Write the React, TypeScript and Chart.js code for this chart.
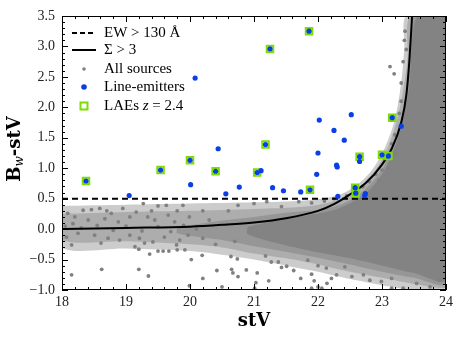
import React, { useEffect, useRef } from 'react';
import { Chart, registerables } from 'chart.js';

Chart.register(...registerables);

// ---------- data ----------
const xTickValues = [18, 19, 20, 21, 22, 23, 24];
const yTickValues = [-1, -0.5, 0, 0.5, 1, 1.5, 2, 2.5, 3, 3.5];

const ewThresholdX = [18, 24];
const ewThresholdY = [0.5, 0.5];

const sigmaCurveX = [18, 19, 20, 20.5, 21, 21.5, 22, 22.25, 22.5, 22.75, 23.0, 23.15, 23.3, 23.38, 23.43, 23.47];
const sigmaCurveY = [0.0, 0.02, 0.04, 0.07, 0.11, 0.18, 0.3, 0.41, 0.57, 0.76, 1.06, 1.32, 1.75, 2.2, 2.8, 3.5];

const lineEmittersX = [18.375, 19.05, 19.54, 20.0, 20.01, 20.08, 20.4, 20.44, 20.56, 20.77, 21.05, 21.11, 21.18, 21.25, 21.29, 21.46, 21.73, 21.86, 21.875, 21.98, 22.0, 22.02, 22.25, 22.29, 22.3, 22.31, 22.41, 22.52, 22.58, 22.59, 22.65, 22.65, 22.74, 22.73, 23.0, 23.1, 23.16, 23.3];
const lineEmittersY = [0.79, 0.55, 0.97, 1.13, 0.73, 2.48, 0.95, 1.32, 0.58, 0.69, 0.93, 0.96, 1.39, 2.96, 0.68, 0.63, 0.61, 3.25, 0.645, 0.9, 1.25, 1.79, 1.62, 1.05, 1.02, 0.54, 1.46, 1.88, 0.68, 0.59, 1.19, 1.11, 0.585, 0.55, 1.22, 1.2, 1.83, 1.69];

const laesX = [18.375, 19.54, 20.0, 20.4, 21.05, 21.18, 21.25, 21.86, 21.875, 22.58, 22.59, 22.65, 23.0, 23.1, 23.16];
const laesY = [0.79, 0.97, 1.13, 0.95, 0.93, 1.39, 2.96, 3.25, 0.645, 0.68, 0.59, 1.19, 1.22, 1.2, 1.83];

// individually visible sources (sparse parts of the cloud)
const sourcesX = [
  18.09, 18.33, 18.46, 18.59, 18.77, 18.95, 19.16, 19.27, 19.5, 19.63, 19.89,
  18.17, 18.41, 18.67, 18.88, 19.06, 19.34, 19.45, 19.66, 19.76, 19.99,
  18.07, 18.25, 18.51, 18.72, 18.9, 19.06, 19.21, 19.42, 19.6, 19.84, 19.97,
  18.15, 18.61, 19.14, 19.29, 19.79,
  18.05, 18.3, 18.55, 18.8, 19.0, 19.25, 19.5, 19.7, 19.9, 20.1, 18.2, 18.7, 19.4, 19.8, 20.2, 20.3, 20.2, 20.4, 20.6, 20.7,
  18.15, 18.62, 19.2, 19.35, 19.2, 19.37, 19.5, 19.58, 19.67, 19.8, 19.92, 20.02, 19.99, 20.19, 20.2, 20.42, 20.5, 20.64, 20.65, 20.67, 20.75, 20.74, 20.88, 21.03, 21.01, 21.05, 21.18, 21.23, 21.27, 21.38, 21.43, 21.51, 21.62, 21.73, 21.84, 21.9, 21.94, 22.0, 21.9, 22.0, 22.13, 22.29, 22.21, 22.42, 22.53, 22.71, 22.81, 22.99, 23.15, 23.33, 23.54, 23.75, 23.9, 23.15, 22.14, 22.06,
  20.75, 21.43, 21.0, 21.7, 22.1, 22.25, 21.9, 21.2,
  22.45, 22.6, 22.7, 22.55, 22.8, 22.9, 23.0, 22.95, 23.05, 23.1, 23.15, 23.2, 23.22, 23.27, 23.3, 23.125, 23.19, 23.36, 23.35, 23.38, 23.33, 23.3
];
const sourcesY = [
  0.26, 0.31, 0.32, 0.34, 0.26, 0.34, 0.28, 0.42, 0.38, 0.39, 0.39,
  0.09, 0.15, 0.17, 0.12, 0.2, 0.2, 0.15, 0.23, 0.12, 0.2,
  -0.13, -0.07, -0.1, -0.15, -0.18, -0.1, -0.15, -0.21, -0.13, -0.18, -0.1,
  -0.26, -0.23, -0.29, -0.23, -0.26,
  0.05, 0.02, 0.06, -0.02, 0.05, -0.03, 0.04, -0.04, 0.06, 0.0, 0.2, 0.3, 0.3, 0.3, 0.3, 0.15, -0.15, -0.25, 0.3, -0.2,
  -0.75, -0.66, -0.66, -0.77, -0.33, -0.41, -0.36, -0.36, -0.36, -0.34, -0.34, -0.5, -0.93, -0.43, -0.81, -0.68, -0.95, -0.45, -0.66, -0.72, -0.78, -0.49, -0.67, -0.88, -0.97, -0.72, -0.44, -0.85, -0.54, -0.54, -0.63, -0.61, -0.68, -0.81, -0.51, -0.74, -0.85, -0.6, -0.97, -0.95, -0.64, -0.75, -0.81, -0.62, -0.78, -0.75, -0.84, -0.86, -0.81, -0.97, -0.89, -0.95, -0.84, -0.97, -0.89, -0.97,
  0.39, 0.37, 0.42, 0.45, 0.46, 0.5, 0.43, 0.45,
  0.55, 0.62, 0.7, 0.5, 0.78, 0.9, 0.97, 0.8, 1.15, 1.0, 1.4, 1.55, 1.25, 1.9, 2.1, 2.67, 2.55, 3.25, 3.1, 2.95, 2.75, 2.4
];

// envelopes of the dense part of the cloud (closed outlines), from sparse to dense
const cloudOuterX = [18, 19, 20, 21, 21.8, 22.3, 22.6, 22.85, 23.05, 23.2, 23.3, 23.35, 23.38, 24, 24, 23.5, 23.0, 22.5, 22.0, 21.5, 21.0, 20.5, 20.0, 19.0, 18.0];
const cloudOuterY = [0.38, 0.4, 0.42, 0.44, 0.47, 0.55, 0.72, 0.98, 1.35, 1.8, 2.4, 3.0, 3.5, 3.5, -1.0, -1.0, -0.92, -0.82, -0.7, -0.6, -0.5, -0.42, -0.36, -0.32, -0.3];
const cloudMiddleX = [18, 19, 20, 21, 21.8, 22.3, 22.65, 22.95, 23.15, 23.3, 23.4, 23.44, 24, 24, 23.5, 23.0, 22.5, 22.0, 21.5, 21.0, 20.5, 20.0, 19.0, 18.0];
const cloudMiddleY = [0.25, 0.28, 0.3, 0.33, 0.37, 0.48, 0.7, 1.05, 1.5, 2.1, 2.8, 3.5, 3.5, -0.95, -0.9, -0.8, -0.7, -0.58, -0.48, -0.4, -0.3, -0.25, -0.2, -0.18];
const cloudDenseX = [19.8, 20.5, 21, 21.5, 22, 22.4, 22.7, 23.0, 23.2, 23.35, 23.45, 23.5, 24, 24, 23.5, 23.0, 22.5, 22.0, 21.5, 21.0, 20.5, 19.8];
const cloudDenseY = [0.03, 0.14, 0.2, 0.27, 0.32, 0.42, 0.62, 0.98, 1.45, 2.1, 2.9, 3.5, 3.5, -0.88, -0.8, -0.7, -0.58, -0.47, -0.37, -0.28, -0.18, -0.07];
const cloudCoreX = [20.9, 21.4, 21.9, 22.3, 22.7, 23.0, 23.25, 23.42, 23.55, 24, 24, 23.5, 23.0, 22.5, 21.9, 21.4, 20.9];
const cloudCoreY = [0.04, 0.15, 0.24, 0.33, 0.55, 0.9, 1.5, 2.3, 3.5, 3.5, -0.82, -0.72, -0.6, -0.48, -0.36, -0.24, -0.08];

const legendLabels = ['EW > 130 Å', 'Σ > 3', 'All sources', 'Line-emitters', 'LAEs '];

// ---------- styles ----------
const GRAY = '#808080';
const BLUE = '#0b3fe6';
const GREEN = '#7ddc00';
const SERIF = '"Liberation Serif", "DejaVu Serif", serif';
const TITLE_FONT = '"DejaVu Serif", "Liberation Serif", serif';

const pts = (xs: number[], ys: number[]) => xs.map((x, i) => ({ x, y: ys[i] }));

const frameAndTicks = {
  id: 'frameAndTicks',
  afterDatasetsDraw(chart: any) {
    const { ctx, chartArea: a, scales } = chart;
    const sx = scales.x, sy = scales.y;
    ctx.save();
    ctx.strokeStyle = '#000';
    ctx.lineWidth = 1;
    ctx.strokeRect(a.left + 0.5, a.top + 0.5, a.right - a.left - 1, a.bottom - a.top - 1);
    ctx.beginPath();
    for (let i = 0; i <= 30; i++) {
      const v = 18 + i * 0.2;
      const len = i % 5 === 0 ? 6 : 3;
      const px = Math.round(sx.getPixelForValue(v)) + 0.5;
      ctx.moveTo(px, a.bottom); ctx.lineTo(px, a.bottom - len);
      ctx.moveTo(px, a.top); ctx.lineTo(px, a.top + len);
    }
    for (let i = 0; i <= 45; i++) {
      const v = -1 + i * 0.1;
      const len = i % 5 === 0 ? 6 : 3;
      const py = Math.round(sy.getPixelForValue(v)) + 0.5;
      ctx.moveTo(a.left, py); ctx.lineTo(a.left + len, py);
      ctx.moveTo(a.right, py); ctx.lineTo(a.right - len, py);
    }
    ctx.stroke();
    ctx.restore();
  },
  afterDraw(chart: any) {
    const { ctx, chartArea: a } = chart;
    ctx.save();
    // y title with subscript
    ctx.translate(15, (a.top + a.bottom) / 2 - 4);
    ctx.rotate(-Math.PI / 2);
    ctx.fillStyle = '#000';
    ctx.textBaseline = 'middle';
    const big = `bold 18px ${TITLE_FONT}`;
    const sub = `italic 12px ${TITLE_FONT}`;
    ctx.font = big; const wB = ctx.measureText('B').width;
    ctx.font = sub; const wW = ctx.measureText('w').width;
    ctx.font = big; const wRest = ctx.measureText('-stV').width;
    let x0 = -(wB + wW + wRest) / 2;
    ctx.textAlign = 'left';
    ctx.font = big; ctx.fillText('B', x0, 0); x0 += wB;
    ctx.font = sub; ctx.fillText('w', x0, 5); x0 += wW;
    ctx.font = big; ctx.fillText('-stV', x0, 0);
    ctx.restore();

    // legend
    ctx.save();
    const lx0 = 72, lx1 = 96, tx = 104;
    const rows = [33, 50, 69, 87, 106];
    ctx.strokeStyle = '#000';
    ctx.lineWidth = 2;
    ctx.setLineDash([5, 3]);
    ctx.beginPath(); ctx.moveTo(lx0, rows[0]); ctx.lineTo(lx1, rows[0]); ctx.stroke();
    ctx.setLineDash([]);
    ctx.beginPath(); ctx.moveTo(lx0, rows[1]); ctx.lineTo(lx1, rows[1]); ctx.stroke();
    ctx.fillStyle = GRAY;
    ctx.beginPath(); ctx.arc(84, rows[2], 1.8, 0, Math.PI * 2); ctx.fill();
    ctx.fillStyle = BLUE;
    ctx.beginPath(); ctx.arc(84, rows[3], 2.8, 0, Math.PI * 2); ctx.fill();
    ctx.strokeStyle = GREEN; ctx.lineWidth = 2;
    ctx.strokeRect(80.5, rows[4] - 3.5, 7, 7);
    ctx.fillStyle = '#000';
    ctx.textBaseline = 'middle';
    ctx.textAlign = 'left';
    ctx.font = `15px ${SERIF}`;
    for (let i = 0; i < 5; i++) ctx.fillText(legendLabels[i], tx, rows[i]);
    let zx = tx + ctx.measureText(legendLabels[4]).width;
    ctx.font = `italic 15px ${SERIF}`;
    ctx.fillText('z', zx, rows[4]);
    zx += ctx.measureText('z').width;
    ctx.font = `15px ${SERIF}`;
    ctx.fillText(' = 2.4', zx, rows[4]);
    ctx.restore();
  },
};

export default function App() {
  const ref = useRef<HTMLCanvasElement | null>(null);
  useEffect(() => {
    if (!ref.current) return;
    const polygon = (xs: number[], ys: number[], color: string, order: number) => ({
      type: 'line' as const,
      data: pts([...xs, xs[0]], [...ys, ys[0]]),
      showLine: true,
      fill: 'shape',
      backgroundColor: color,
      borderColor: 'rgba(0,0,0,0)',
      borderWidth: 0,
      pointRadius: 0,
      tension: 0.3,
      order,
    });
    const chart = new Chart(ref.current, {
      type: 'scatter',
      data: {
        datasets: [
          {
            label: 'Line-emitters',
            data: pts(lineEmittersX, lineEmittersY),
            pointRadius: 2.6,
            pointBackgroundColor: BLUE,
            pointBorderWidth: 0,
            order: 0,
          },
          {
            label: 'LAEs',
            data: pts(laesX, laesY),
            pointStyle: 'rect',
            pointRadius: 4.6,
            pointBackgroundColor: 'rgba(0,0,0,0)',
            pointBorderColor: GREEN,
            pointBorderWidth: 2,
            order: 1,
          },
          {
            type: 'line',
            label: 'EW',
            data: pts(ewThresholdX, ewThresholdY),
            borderColor: '#000',
            borderWidth: 2,
            borderDash: [6, 4],
            pointRadius: 0,
            fill: false,
            order: 2,
          },
          {
            type: 'line',
            label: 'Sigma',
            data: pts(sigmaCurveX, sigmaCurveY),
            borderColor: '#000',
            borderWidth: 2,
            pointRadius: 0,
            cubicInterpolationMode: 'monotone',
            fill: false,
            order: 3,
          },
          {
            label: 'All sources',
            data: pts(sourcesX, sourcesY),
            pointRadius: 1.9,
            pointBackgroundColor: GRAY,
            pointBorderWidth: 0,
            order: 4,
          },
          polygon(cloudCoreX, cloudCoreY, 'rgba(128,128,128,0.85)', 5),
          polygon(cloudDenseX, cloudDenseY, 'rgba(128,128,128,0.5)', 6),
          polygon(cloudMiddleX, cloudMiddleY, 'rgba(128,128,128,0.4)', 7),
          polygon(cloudOuterX, cloudOuterY, 'rgba(128,128,128,0.4)', 8),
        ] as any,
      },
      options: {
        animation: false,
        responsive: false,
        devicePixelRatio: 1,
        layout: { padding: { top: 16, right: 17, left: 0, bottom: 0 } },
        plugins: { legend: { display: false }, tooltip: { enabled: false } },
        scales: {
          x: {
            type: 'linear',
            min: 18,
            max: 24,
            afterFit: (s: any) => { s.height = 48; },
            afterBuildTicks: (s: any) => { s.ticks = xTickValues.map((v) => ({ value: v })); },
            grid: { display: false, drawTicks: false },
            border: { display: false },
            ticks: { padding: 4, color: '#222', font: { family: SERIF, size: 14 }, callback: (v: any) => String(v) },
            title: { display: true, text: 'stV', color: '#000', font: { family: TITLE_FONT, size: 18, weight: 'bold' }, padding: { top: 0, bottom: 6 } },
          },
          y: {
            type: 'linear',
            min: -1,
            max: 3.5,
            afterFit: (s: any) => { s.width = 62; },
            afterBuildTicks: (s: any) => { s.ticks = yTickValues.map((v) => ({ value: v })); },
            grid: { display: false, drawTicks: false },
            border: { display: false },
            ticks: { padding: 7, color: '#222', font: { family: SERIF, size: 14 }, callback: (v: any) => Number(v).toFixed(1).replace('-', '\u2212') },
          },
        },
      },
      plugins: [frameAndTicks],
    } as any);
    return () => chart.destroy();
  }, []);
  return (
    <div style={{ position: 'absolute', left: 0, top: 0, width: 463, height: 338, background: '#fff' }}>
      <canvas ref={ref} width={463} height={338} />
    </div>
  );
}
